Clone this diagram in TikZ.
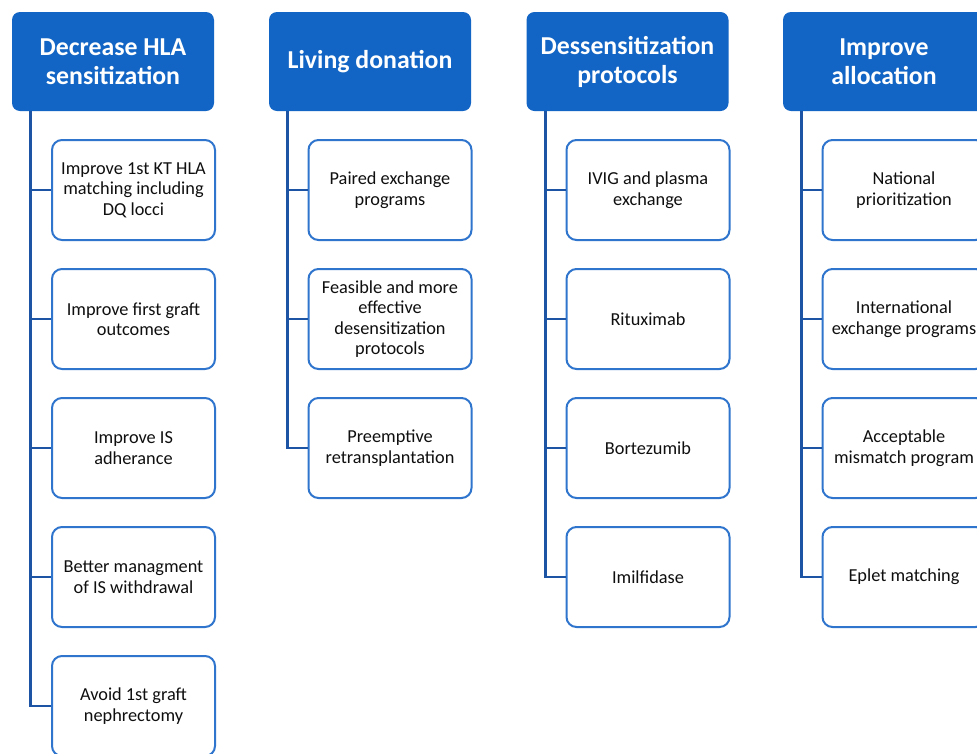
\documentclass[tikz,border=0pt]{standalone}
\usepackage{fontspec}
\setmainfont{Carlito}
\definecolor{hdr}{RGB}{18,101,196}
\definecolor{bd}{RGB}{48,117,205}
\definecolor{cn}{RGB}{30,84,164}
\definecolor{tx}{RGB}{15,15,15}
\begin{document}
\begin{tikzpicture}[x=1pt,y=-1pt,
  header/.style={rectangle, rounded corners=8pt, fill=hdr, text=white,
    font=\bfseries\fontsize{25.8}{29}\selectfont, align=center,
    minimum width=202pt, minimum height=99pt, inner sep=0pt},
  child/.style={rectangle, draw=bd, line width=2pt, rounded corners=10pt, fill=white,
    text=tx, font=\fontsize{18.3}{20.5}\selectfont, align=center,
    minimum width=163pt, minimum height=100pt, inner sep=0pt},
  conn/.style={draw=cn, line width=2.8pt}]
\useasboundingbox (0,0) rectangle (977,753);
\clip (0,0) rectangle (977,753);
\fill[white] (0,0) rectangle (977,753);
% headers
\node[header] (h1) at (113,61.5) {Decrease HLA\\sensitization};
\node[header] (h2) at (370,61.5) {Living donation};
\node[header] (h3) at (627.5,61.5) {Dessensitization\\protocols};
\node[header] (h4) at (884,61.5) {Improve\\allocation};
% column 1
\node[child] (c11) at (133.5,190) {Improve 1st KT HLA\\matching including\\DQ locci};
\node[child] (c12) at (133.5,319) {Improve first graft\\outcomes};
\node[child] (c13) at (133.5,448) {Improve IS\\adherance};
\node[child] (c14) at (133.5,577) {Better managment\\of IS withdrawal};
\node[child] (c15) at (133.5,706) {Avoid 1st graft\\nephrectomy};
% column 2
\node[child] (c21) at (390,190) {Paired exchange\\programs};
\node[child] (c22) at (390,319) {Feasible and more\\effective\\desensitization\\protocols};
\node[child] (c23) at (390,448) {Preemptive\\retransplantation};
% column 3
\node[child] (c31) at (648,190) {IVIG and plasma\\exchange};
\node[child] (c32) at (648,319) {Rituximab};
\node[child] (c33) at (648,448) {Bortezumib};
\node[child] (c34) at (648,577) {Imilfidase};
% column 4
\node[child] (c41) at (904,190) {National\\prioritization};
\node[child] (c42) at (904,319) {International\\exchange programs};
\node[child] (c43) at (904,448) {Acceptable\\mismatch program};
\node[child] (c44) at (904,577) {Eplet matching};
% connectors
\foreach \c in {c11,c12,c13,c14,c15}
  \draw[conn] ([xshift=19pt]h1.south west) |- (\c.west);
\foreach \c in {c21,c22,c23}
  \draw[conn] ([xshift=19pt]h2.south west) |- (\c.west);
\foreach \c in {c31,c32,c33,c34}
  \draw[conn] ([xshift=19pt]h3.south west) |- (\c.west);
\foreach \c in {c41,c42,c43,c44}
  \draw[conn] ([xshift=19pt]h4.south west) |- (\c.west);
\end{tikzpicture}
\end{document}
